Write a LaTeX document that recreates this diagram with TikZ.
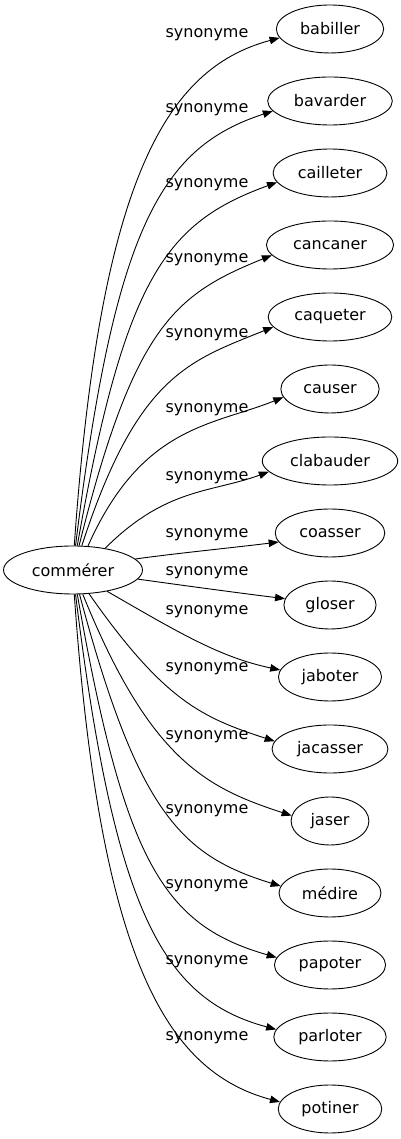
\documentclass[tikz,border=0pt]{standalone}
\usepackage{fontspec}
\setmainfont{DejaVu Sans}
\usetikzlibrary{arrows.meta,shapes.geometric}
\begin{document}
\begin{tikzpicture}[x=1pt,y=1pt,
  every node/.style={font=\fontsize{16}{19}\selectfont},
  word/.style={ellipse, draw, line width=0.9pt, inner xsep=8pt, inner ysep=0pt, minimum height=48pt},
  lab/.style={inner sep=0pt},
  edge/.style={line width=0.9pt, -{Triangle[length=10pt,width=7.5pt]}}]
\useasboundingbox (0,0) rectangle (400,1139);
\node[word] (c) at (73,569) {commérer};
\foreach \i/\w/\ly/\a/\o/\e/\b in {
  0/babiller/35/87/86/190/195,
  1/bavarder/110/84/83/190/198,
  2/cailleter/185/80/80/190/200,
  3/cancaner/260/76/76/190/202,
  4/caqueter/335/70/72/190/202,
  5/causer/410/58/66/190/202,
  6/clabauder/478/34/45/190/200,
  7/coasser/535/10/8/190/187,
  8/gloser/573/-8/-8/172/173,
  9/jaboter/612/-32/-30/172/168,
  10/jacasser/669/-56/-55/172/162,
  11/jaser/737/-68/-68/172/162,
  12/médire/811/-75/-75/172/163,
  13/papoter/886/-80/-80/172/164,
  14/parloter/962/-84/-83/172/165,
  15/potiner/1038/-87/-86/172/165}{
  \pgfmathsetmacro\dy{abs(1110-72*\i-569)}
  \pgfmathsetmacro\da{0.65*\dy+15}
  \pgfmathsetmacro\db{min(118,40+0.2*\dy)}
  \node[word] (n\i) at (330,1110-72*\i) {\w};
  \node[lab] (l\i) at (207,1139-\ly) {synonyme};
  \draw[edge] (c.\a) to[out=\o, in=\b, out distance=\da pt, in distance=\db pt] (n\i.\e);
}
\end{tikzpicture}
\end{document}
